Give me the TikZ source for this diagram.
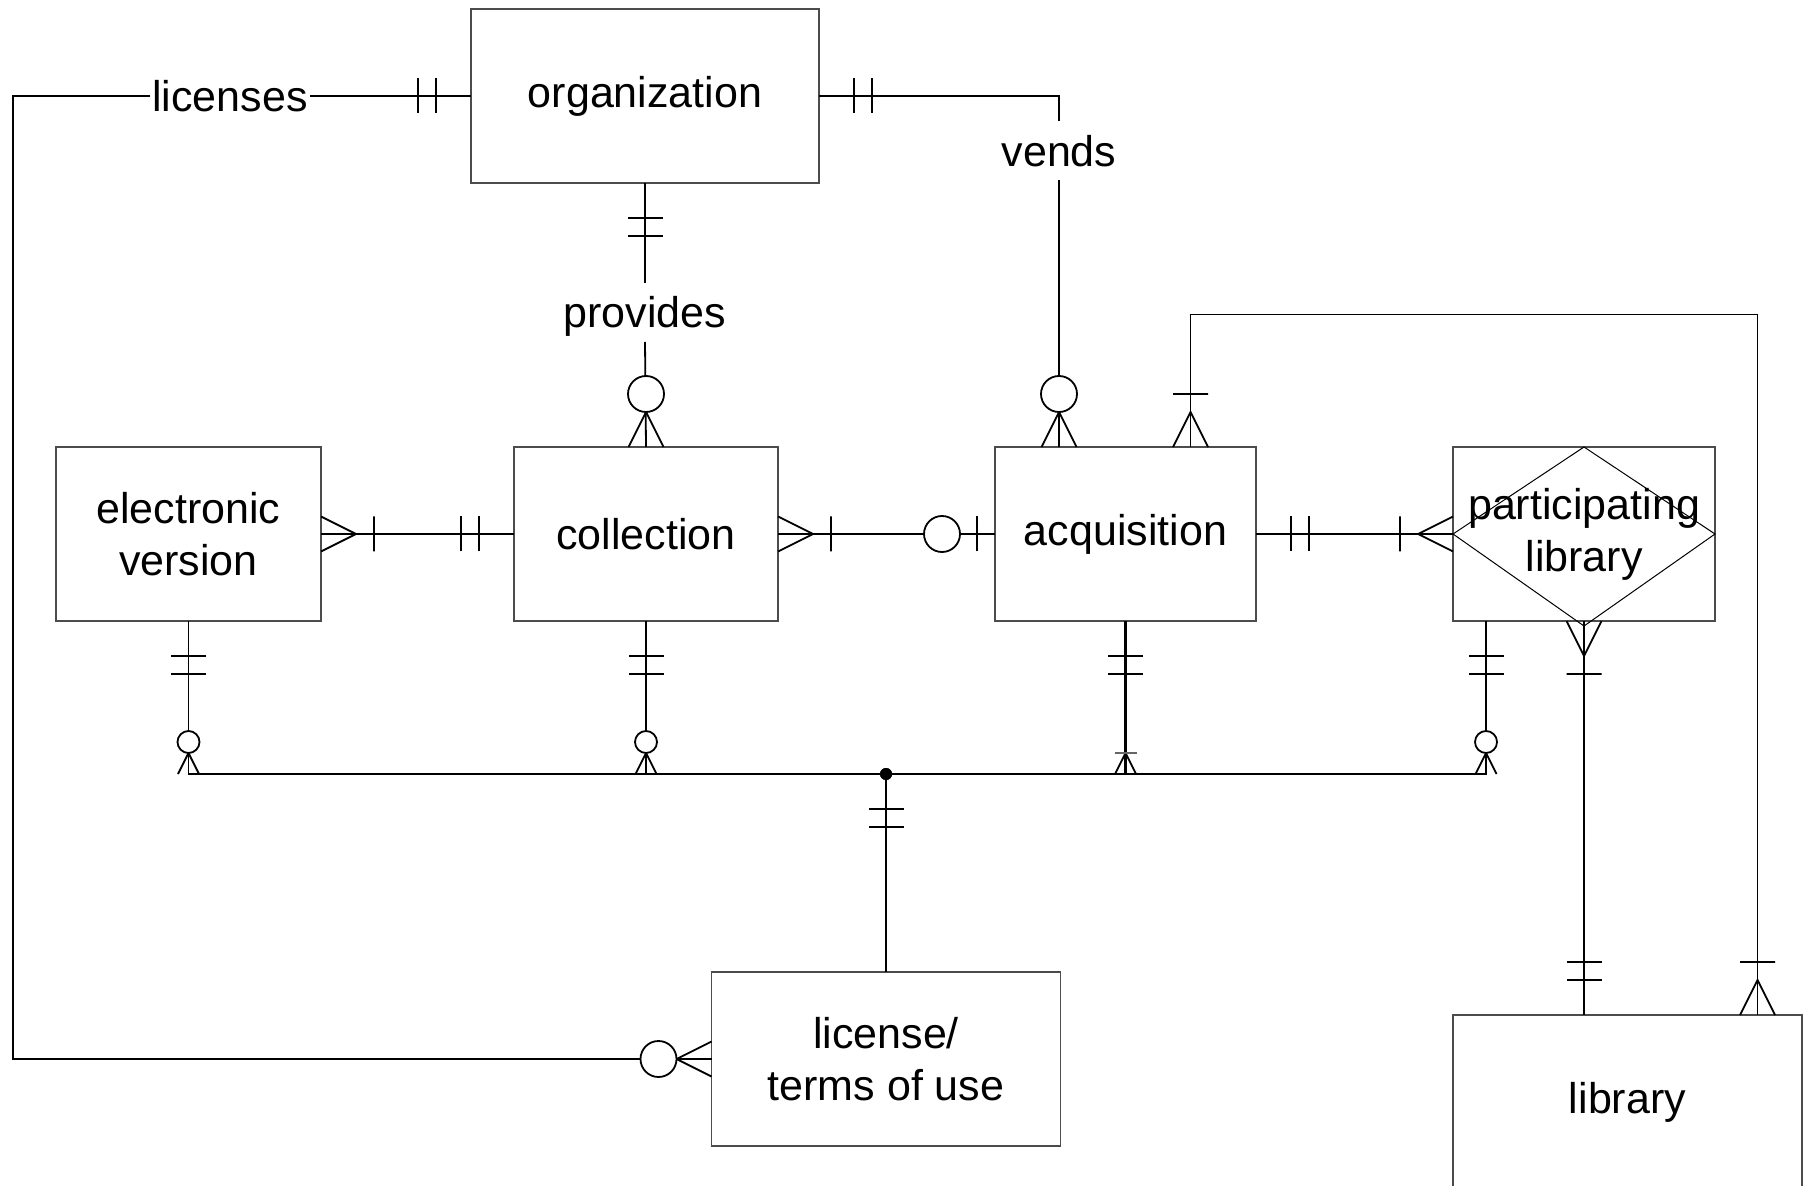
\documentclass[tikz,border=0pt]{standalone}
\usepackage{fontspec}
\setmainfont{Liberation Sans}
\usetikzlibrary{calc}

\tikzset{
  % cardinality markers, drawn outward from the box edge along local x
  pics/mandone/.style={code={
    \draw (35,-17.5) -- (35,17.5) (53,-17.5) -- (53,17.5);}},
  pics/onemany/.style={code={
    \draw (0,-17.5) -- (35,0) -- (0,17.5) (53,-17.5) -- (53,17.5);}},
  pics/zeromany/.style={code={
    \draw (0,-17.5) -- (35,0) -- (0,17.5);
    \draw[fill=white] (53,0) circle[radius=9pt];}},
  pics/zeroone/.style={code={
    \draw (18,-17.5) -- (18,17.5);
    \draw[fill=white] (53,0) circle[radius=9pt];}},
  pics/szeromany/.style={code={
    \draw (0,-10.5) -- (21,0) -- (0,10.5);
    \draw[fill=white] (32,0) circle[radius=5.5pt];}},
  pics/sonemany/.style={code={
    \draw (0,-10.5) -- (21,0) -- (0,10.5);
    \draw[black!60] (21,-11) -- (21,11);}},
}

\begin{document}
\begin{tikzpicture}[x=0.5pt,y=-0.5pt,line width=0.9pt,
  every node/.style={font=\fontsize{21.5pt}{26pt}\selectfont},
  entity/.style={draw=black!70, line width=0.6pt, inner sep=0pt, outer sep=0pt,
                 align=center, minimum height=87pt},
  rel/.style={inner xsep=1pt, inner ysep=7pt, outer sep=0pt,
              text height=15.5pt, text depth=0pt},
  dot/.style={circle, fill=black, inner sep=0pt, minimum size=6pt}]

\useasboundingbox (0,0) rectangle (1807,1186);

% entities
\node[entity, minimum width=174pt]   (org)    at (645,96)    {organization};
\node[entity, minimum width=132.5pt] (ev)     at (188.5,534) {electronic\\version};
\node[entity, minimum width=132pt]   (coll)   at (646,534)   {collection};
\node[entity, minimum width=130.5pt] (acq)    at (1125.5,534){acquisition};
\node[entity, minimum width=131pt]   (plib)   at (1584,534)  {};
\draw[line width=0.5pt] (plib.north) -- (plib.east) -- ($(plib.south)+(0,5)$)
      -- (plib.west) -- cycle;
\node[align=center] (pltxt) at (plib.center) {participating\\library};
\node[entity, minimum width=174.5pt] (lterms) at (886,1059)  {license/\\terms of use};
\node[entity, minimum width=174.5pt] (lib)    at (1627.5,1102) {library};

% relationship labels
\node[rel] (licl)    at (230,96)    {licenses};
\node[rel] (vl)      at (1059,151)  {vends};
\node[rel] (provlbl) at (645,312.5) {provides};

% free ends of the long connectors
\coordinate (cL)    at (12.7,1059);
\coordinate (acqA)  at (1190.5,447);
\coordinate (loopc) at (1190.5,314.6);
\coordinate (libA)  at (1757.5,1015);
\coordinate (plb)   at (1486,621);
\node[dot] (jn) at (886,774) {};

% licenses
\draw (org.west) -- (licl.east);
\draw (licl.west) -| (cL) -- (lterms.west);
\pic[rotate=180] at (org.west) {mandone};
\pic[rotate=180] at (lterms.west) {zeromany};

% vends
\draw (org.east) -| (vl.north);
\draw (vl.south) -- (vl.south |- acq.north);
\pic at (org.east) {mandone};
\pic[rotate=90] at (vl.south |- acq.north) {zeromany};

% provides
\draw (org.south) -- (provlbl.north);
\draw (provlbl.south) -- (coll.north);
\pic[rotate=-90] at (org.south) {mandone};
\pic[rotate=90] at (coll.north) {zeromany};

% library -- acquisition
\draw (acqA) -- (loopc) -| (libA);
\pic[rotate=90] at (acqA) {onemany};
\pic[rotate=90] at (libA) {onemany};

% horizontal chain
\draw (ev.east) -- (coll.west);
\pic at (ev.east) {onemany};
\pic[rotate=180] at (coll.west) {mandone};

\draw (coll.east) -- (acq.west);
\pic at (coll.east) {onemany};
\pic[rotate=180] at (acq.west) {zeroone};

\draw (acq.east) -- (plib.west);
\pic at (acq.east) {mandone};
\pic[rotate=180] at (plib.west) {onemany};

% participating library -- library
\draw (plib.south) -- (plib.south |- lib.north);
\pic[rotate=-90] at (plib.south) {onemany};
\pic[rotate=90] at (plib.south |- lib.north) {mandone};

% terms of use bus
\draw (ev.south) -- (ev.south |- jn.center) -- (plb |- jn.center) -- (plb);
\draw (coll.south) -- (coll.south |- jn.center);
\draw[line width=1.3pt] (acq.south) -- (acq.south |- jn.center);
\draw (jn.center) -- (lterms.north);
\node[dot] at (jn) {};

\pic[rotate=-90] at (ev.south) {mandone};
\pic[rotate=-90] at (coll.south) {mandone};
\pic[rotate=-90, line width=1.3pt] at (acq.south) {mandone};
\pic[rotate=-90] at (plb) {mandone};
\pic[rotate=-90] at (jn.center) {mandone};

\pic[rotate=90] at (ev.south |- jn.center) {szeromany};
\pic[rotate=90] at (coll.south |- jn.center) {szeromany};
\pic[rotate=90] at (acq.south |- jn.center) {sonemany};
\pic[rotate=90] at (plb |- jn.center) {szeromany};

\end{tikzpicture}
\end{document}
